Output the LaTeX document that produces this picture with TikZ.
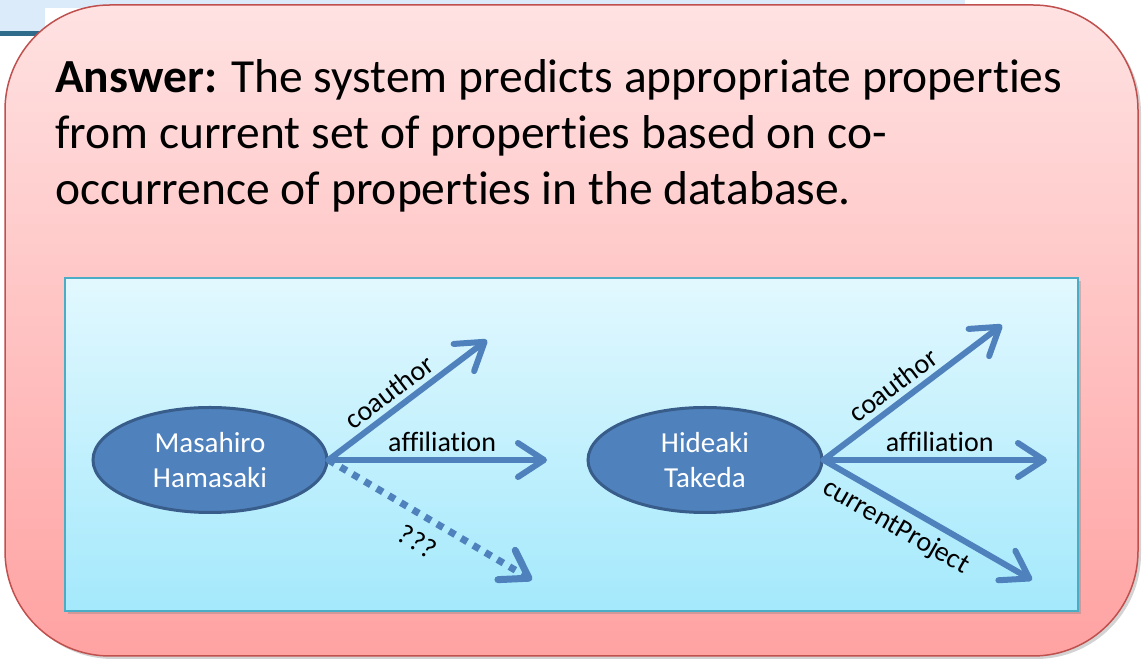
\documentclass[tikz,border=0pt]{standalone}
\usepackage{fontspec}
\setmainfont{Carlito}[Ligatures=NoCommon]
\usetikzlibrary{arrows.meta,shadows,shapes.geometric}
\definecolor{pinktop}{HTML}{FFE2E2}
\definecolor{pinkbot}{HTML}{FFA2A2}
\definecolor{pinkline}{HTML}{C0504D}
\definecolor{bluetop}{HTML}{E2F8FE}
\definecolor{bluebot}{HTML}{A4E9FC}
\definecolor{blueline}{HTML}{4BACC6}
\definecolor{arrowblue}{HTML}{4F81BD}
\definecolor{ellline}{HTML}{385D8A}
\definecolor{bgblue}{HTML}{DCEBFA}
\definecolor{bgteal}{HTML}{2F6B8A}
\begin{document}
\begin{tikzpicture}[x=1pt,y=1pt,
  outerbox/.style={draw=pinkline, line width=1.5pt, top color=pinktop, bottom color=pinkbot,
    rounded corners=105pt, drop shadow={opacity=0.35, shadow xshift=3pt, shadow yshift=-3pt}},
  innerbox/.style={draw=blueline, line width=1.5pt, top color=bluetop, bottom color=bluebot,
    drop shadow={opacity=0.35, shadow xshift=3pt, shadow yshift=-3pt}},
  maintext/.style={inner sep=0pt, anchor=base west, font=\fontsize{47.5}{57}\selectfont},
  person/.style={ellipse, draw=ellline, line width=3pt, fill=arrowblue, text=white,
    minimum width=234pt, minimum height=105pt, inner sep=0pt, align=center,
    font=\fontsize{29}{35}\selectfont},
  rel/.style={draw=arrowblue, line width=6pt, line cap=round,
    -{Straight Barb[length=26pt,width=34pt,round]}},
  guess/.style={draw=arrowblue, line width=7pt, dash pattern=on 7pt off 7pt,
    -{Straight Barb[length=26pt,width=34pt,round]}},
  lbl/.style={font=\fontsize{28}{34}\selectfont, text=black, sloped, inner sep=5pt},
]
\useasboundingbox (0,0) rectangle (1143,663);
% background remnants
\fill[bgblue] (0,655) rectangle (965,663);
\fill[bgblue] (0,631) rectangle (45,663);
\fill[bgteal] (0,627) rectangle (40,632);
% main box
\path[outerbox] (5,658) rectangle (1138,7);
\node[maintext] (l1) at (55,570) {\textbf{Answer:} The system predicts appropriate properties};
\node[maintext] (l2) at (55,514) {from current set of properties based on co-};
\node[maintext] (l3) at (55,458) {occurrence of properties in the database.};
% inner box
\path[innerbox] (65,385) rectangle (1078,52);
% people
\node[person] (mh) at (210,203) {Masahiro\\Hamasaki};
\node[person] (ht) at (705,203) {Hideaki\\Takeda};
% targets
\coordinate (mhc) at (487,323);
\coordinate (mha) at (547,203);
\coordinate (mhq) at (532,83);
\coordinate (htc) at (1002,338);
\coordinate (hta) at (1047,203);
\coordinate (htp) at (1032,83);
% relations
\draw[rel] (mh.east) -- node[lbl, above, pos=0.45] {coauthor} (mhc);
\draw[rel] (mh.east) -- node[lbl, above, pos=0.52] {affiliation} (mha);
\draw[guess] (mh.east) -- node[lbl, below, pos=0.5, inner sep=12pt] {???} (mhq);
\draw[rel] (ht.east) -- node[lbl, above, pos=0.45] {coauthor} (htc);
\draw[rel] (ht.east) -- node[lbl, above, pos=0.52] {affiliation} (hta);
\draw[rel] (ht.east) -- node[lbl, below, pos=0.4, inner sep=7pt] {currentProject} (htp);
\end{tikzpicture}
\end{document}
